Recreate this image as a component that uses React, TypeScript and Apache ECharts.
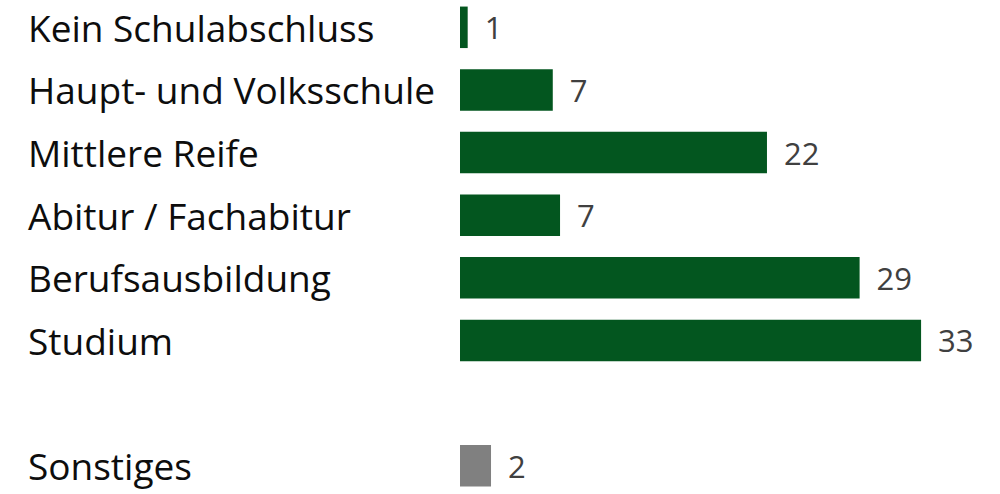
import React, { useEffect, useRef } from "react";
import * as echarts from "echarts";

const categories = [
  "Kein Schulabschluss",
  "Haupt- und Volksschule",
  "Mittlere Reife",
  "Abitur / Fachabitur",
  "Berufsausbildung",
  "Studium",
  "",
  "Sonstiges",
];
const values: (number | null)[] = [0.55, 6.64, 21.97, 7.16, 28.6, 33.0, null, 2.22];
const barColors = ["#03561f", "#03561f", "#03561f", "#03561f", "#03561f", "#03561f", "#03561f", "#808080"];
const axisMax = 36;

export default function App() {
  const ref = useRef<HTMLDivElement>(null);
  useEffect(() => {
    if (!ref.current) return;
    const chart = echarts.init(ref.current, null, { renderer: "svg" });
    const font = "'Open Sans', 'Noto Sans', sans-serif";
    chart.setOption({
      animation: false,
      grid: { left: 460, right: 37, top: 0, bottom: 0, containLabel: false },
      xAxis: {
        type: "value",
        min: 0,
        max: axisMax,
        show: false,
      },
      yAxis: {
        type: "category",
        data: categories,
        inverse: true,
        axisLine: { show: false },
        axisTick: { show: false },
        splitLine: { show: false },
        axisLabel: {
          align: "left",
          margin: 432,
          fontFamily: font,
          fontSize: 37,
          color: "#0d0d0d",
          padding: [8, 0, 0, 0],
        },
      },
      series: [
        {
          type: "bar",
          data: values.map((v, i) => ({ value: v, itemStyle: { color: barColors[i] } })),
          barWidth: 41.5,
          label: {
            show: true,
            position: "right",
            distance: 17,
            fontFamily: font,
            fontSize: 31,
            color: "#404040",
            formatter: (p: any) => (p.value == null ? "" : String(Math.round(p.value))),
          },
        },
      ],
    });
    return () => chart.dispose();
  }, []);
  return (
    <div style={{ position: "absolute", left: 0, top: 0, width: 1000, height: 494, overflow: "hidden" }}>
      <div ref={ref} style={{ width: 1000, height: 501, position: "absolute", left: 0, top: -4 }} />
    </div>
  );
}
